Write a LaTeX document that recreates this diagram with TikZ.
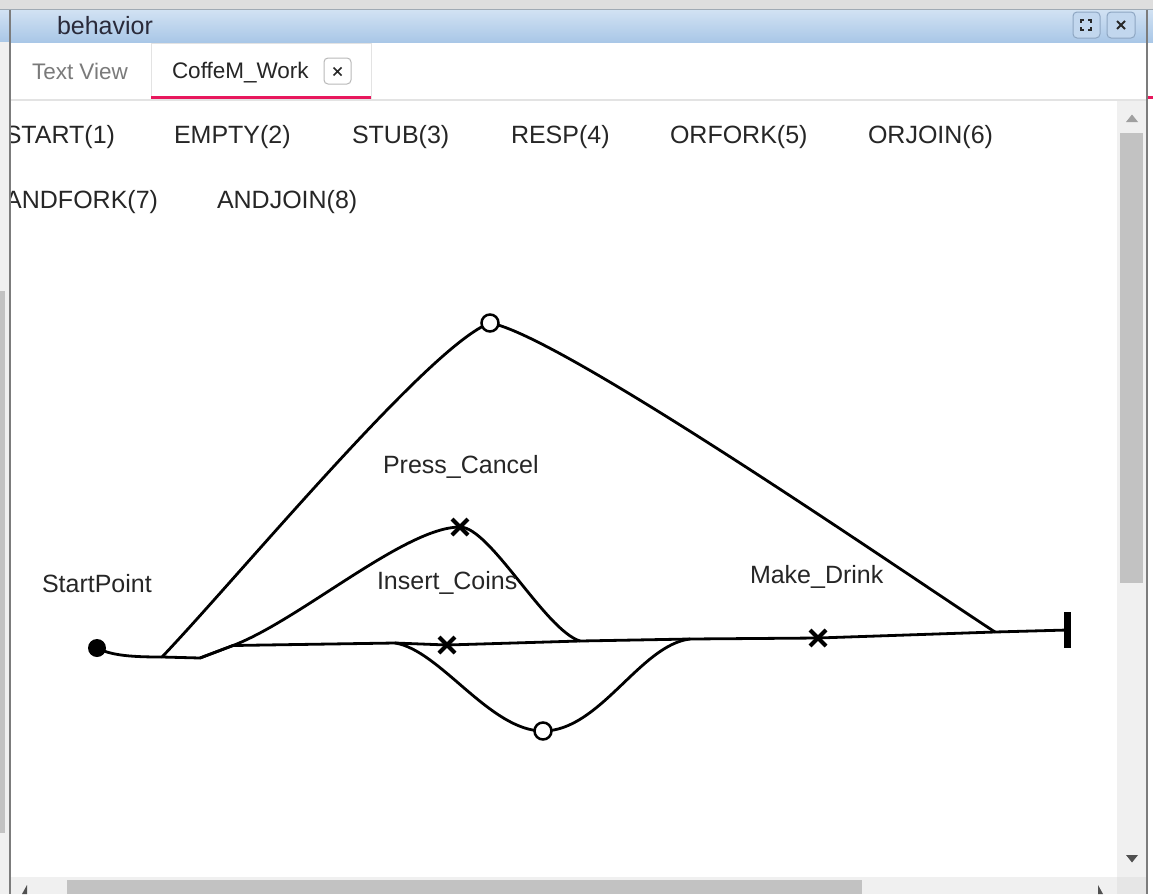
\documentclass[tikz,border=0pt]{standalone}
\usepackage{fontspec}
\setmainfont{Liberation Sans}
\usetikzlibrary{shapes.misc}
\definecolor{txt}{HTML}{262626}
\definecolor{txtgrey}{HTML}{7A7A7A}
\definecolor{titletxt}{HTML}{2A2A3A}
\definecolor{barTop}{HTML}{D2E2F3}
\definecolor{barBot}{HTML}{A9C7E7}
\definecolor{btnLine}{HTML}{8EA6C2}
\definecolor{topStrip}{HTML}{DEDEDE}
\definecolor{topEdge}{HTML}{A0AAB4}
\definecolor{chrome}{HTML}{F0F0F0}
\definecolor{corner}{HTML}{E6E6E6}
\definecolor{thumb}{HTML}{C2C2C2}
\definecolor{arrowLight}{HTML}{A0A0A0}
\definecolor{arrowDark}{HTML}{505050}
\definecolor{icon}{HTML}{282828}
\definecolor{closeLine}{HTML}{B9B9B9}
\definecolor{frame}{HTML}{7C7C7C}
\definecolor{tabLine}{HTML}{E3E3E3}
\definecolor{accent}{HTML}{E8175D}
\pgfdeclarelayer{chromelayer}
\pgfdeclarelayer{wires}
\pgfsetlayers{chromelayer,wires,main}
\begin{document}
\begin{tikzpicture}[x=1pt,y=-1pt,
  every node/.style={inner sep=0pt,outer sep=0pt},
  lbl/.style={font=\fontsize{25}{30}\selectfont,text=txt},
  tablbl/.style={font=\fontsize{22.5}{27}\selectfont,text=txt},
  wire/.style={line width=2.8pt,line cap=round,line join=round},
  xmark/.style={cross out,draw,line width=4pt,minimum size=16pt},
  orpoint/.style={circle,draw,fill=white,line width=2.5pt,minimum size=17pt},
  startdot/.style={circle,fill=black,minimum size=18pt},
  btn/.style={draw=btnLine,line width=1pt,rounded corners=4pt}]
\useasboundingbox (0,0) rectangle (1153,894);

% ---------- window chrome ----------
\begin{pgfonlayer}{chromelayer}
  \fill[white] (0,0) rectangle (1153,894);
  \fill[topStrip] (0,0) rectangle (1153,9);
  \shade[top color=barTop,bottom color=barBot] (0,9.5) rectangle (1153,42);
  \draw[topEdge,line width=0.8pt] (0,9.5) -- (1153,9.5);
  % title-bar buttons
  \fill[barTop!60!barBot,rounded corners=4pt] (1073,12) rectangle (1100,38);
  \draw[btn] (1073,12) rectangle (1100,38);
  \fill[barTop!60!barBot,rounded corners=4pt] (1107,12) rectangle (1135,38);
  \draw[btn] (1107,12) rectangle (1135,38);
  \draw[line width=2pt,icon]
    (1081,23) -- (1081,20) -- (1084,20)  (1088,20) -- (1091,20) -- (1091,23)
    (1091,27) -- (1091,30) -- (1088,30)  (1084,30) -- (1081,30) -- (1081,27);
  \draw[line width=2pt,icon]
    (1117,21) -- (1125,29) (1117,29) -- (1125,21);
  % tab bar
  \draw[tabLine,line width=1.2pt] (10,100) -- (1147,100);
  \draw[tabLine,line width=1pt] (151,100) -- (151,43) -- (371,43) -- (371,100);
  \fill[accent] (151,95.5) rectangle (371,99);
  \fill[accent] (1148,95.5) rectangle (1153,99);
  \draw[closeLine,line width=1pt,rounded corners=4pt,fill=white]
    (324,58) rectangle (351,84);
  \draw[line width=1.6pt,icon]
    (333.5,67.5) -- (341.5,75.5) (333.5,75.5) -- (341.5,67.5);
  % left strip with its thumb
  \fill[chrome] (0,42) rectangle (9.5,894);
  \fill[thumb] (0,291) rectangle (5,833);
  % vertical scrollbar
  \fill[chrome] (1117,100.5) rectangle (1146.5,877);
  \fill[thumb] (1120,133) rectangle (1143,583);
  \fill[arrowLight] (1126,122) -- (1138,122) -- (1132,114.5) -- cycle;
  \fill[arrowDark] (1126,855) -- (1138,855) -- (1132,862.5) -- cycle;
  % horizontal scrollbar
  \fill[chrome] (10,877) rectangle (1146.5,894);
  \fill[thumb] (67,880) rectangle (862,894);
  \fill[corner] (1117,877) rectangle (1146.5,894);
  \fill[arrowDark] (27,885) -- (27,894) -- (22,894) -- cycle;
  \fill[arrowDark] (1098,885) -- (1098,894) -- (1103,894) -- cycle;
  % panel borders
  \draw[frame,line width=1.3pt] (10,9.5) -- (10,894);
  \draw[frame,line width=1.3pt] (1147,9.5) -- (1147,894);
\end{pgfonlayer}

% ---------- titles and tabs ----------
\node[lbl,anchor=base west,text=titletxt] (title) at (57,34) {behavior};
\node[tablbl,anchor=base west,text=txtgrey] (tabText) at (32,79) {Text View};
\node[tablbl,anchor=base west] (tabWork) at (172,78) {CoffeM\_Work};

% ---------- component palette ----------
\begin{scope}
  \clip (11,101) rectangle (1116,876);
  \node[lbl,anchor=base east] (pStart) at (115,143) {START(1)};
  \node[lbl,anchor=base west] (pEmpty) at (174,143) {EMPTY(2)};
  \node[lbl,anchor=base west] (pStub) at (352,143) {STUB(3)};
  \node[lbl,anchor=base west] (pResp) at (511,143) {RESP(4)};
  \node[lbl,anchor=base west] (pOrFork) at (670,143) {ORFORK(5)};
  \node[lbl,anchor=base west] (pOrJoin) at (868,143) {ORJOIN(6)};
  \node[lbl,anchor=base east] (pAndFork) at (158,208) {ANDFORK(7)};
  \node[lbl,anchor=base west] (pAndJoin) at (217,208) {ANDJOIN(8)};
\end{scope}

% ---------- use case map ----------
\node[startdot] (startpt) at (97,648) {};
\node[orpoint] (orTop) at (490,323) {};
\node[orpoint] (orBot) at (543,731) {};
\node[xmark] (rPress) at (460,527) {};
\node[xmark] (rCoins) at (447,645) {};
\node[xmark] (rDrink) at (818,638) {};
\node[fill=black,minimum width=7pt,minimum height=36pt] (endbar) at (1067.5,630) {};

\coordinate (f1) at (162,657);
\coordinate (f2) at (200,658);
\coordinate (f3) at (233,645.5);
\coordinate (f4) at (395,643);
\coordinate (j1) at (580,641);
\coordinate (j2) at (690,639);
\coordinate (j3) at (995,632);

\node[lbl,anchor=base west] (lStart) at (42,592) {StartPoint};
\node[lbl,anchor=base west] (lPress) at (383,473) {Press\_Cancel};
\node[lbl,anchor=base west] (lCoins) at (377,589) {Insert\_Coins};
\node[lbl,anchor=base west] (lDrink) at (750,583) {Make\_Drink};

\begin{pgfonlayer}{wires}
  % trunk
  \draw[wire] (startpt.center) .. controls (112,656) and (135,657) .. (f1) -- (f2) -- (f3)
    -- (f4) -- (rCoins.center) -- (j1) -- (j2) -- (rDrink.center) -- (j3) -- (endbar.center);
  % upper alternative through the top OR point
  \draw[wire] (f1) .. controls (240,575) and (430,345) .. (orTop.center)
    .. controls (560,335) and (900,570) .. (j3);
  % Press_Cancel branch
  \draw[wire] (f2) -- (f3) .. controls (300,620) and (405,527) .. (rPress.center)
    .. controls (490,527) and (545,630) .. (j1);
  % lower alternative through the bottom OR point
  \draw[wire] (f4) .. controls (440,650) and (490,731) .. (orBot.center)
    .. controls (600,731) and (640,645) .. (j2);
\end{pgfonlayer}
\end{tikzpicture}
\end{document}
